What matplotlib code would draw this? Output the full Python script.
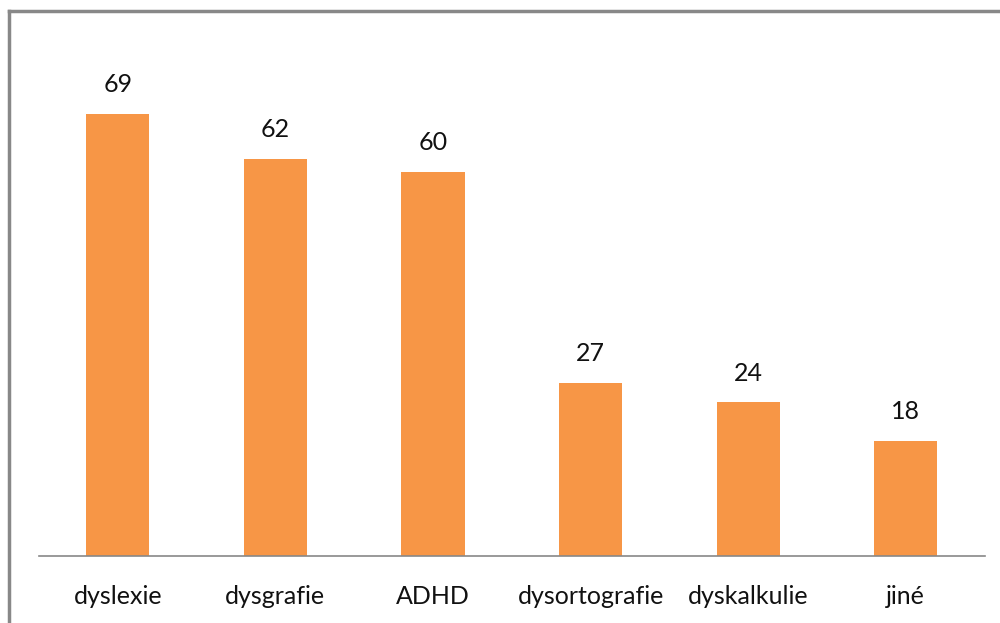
import matplotlib
matplotlib.use("Agg")
import matplotlib.pyplot as plt
from matplotlib.lines import Line2D

categories = ["dyslexie", "dysgrafie", "ADHD", "dysortografie", "dyskalkulie", "jiné"]
counts = [69, 62, 60, 27, 24, 18]

plt.rcParams['font.family'] = ['Lato', 'DejaVu Sans']

fig = plt.figure(figsize=(10, 6.23), dpi=100)
ax = fig.add_axes([0.039, 0.1075, 0.9456, 0.8225])

x = range(len(categories))
bars = ax.bar(x, counts, width=0.4, color="#F79646")
for b, v in zip(bars, counts):
    ax.annotate(str(v), (b.get_x() + b.get_width() / 2, v), xytext=(0, 21),
                textcoords="offset points", ha="center", va="center",
                fontsize=18, color="#111111")

ax.set_xlim(-0.5, len(categories) - 0.5)
ax.set_ylim(0, 80)
ax.set_yticks([])
ax.set_xticks(list(x))
ax.set_xticklabels(categories, fontsize=18, color="#111111")
ax.tick_params(axis="x", length=0, pad=21)
for s in ["top", "right", "left"]:
    ax.spines[s].set_visible(False)
ax.spines["bottom"].set_color("#888888")
ax.spines["bottom"].set_linewidth(1.2)

# outer frame (top and left edges)
fig.add_artist(Line2D([0.009, 1.0], [1 - 11/623, 1 - 11/623], color="#888888", lw=2.5))
fig.add_artist(Line2D([0.009, 0.009], [0.0, 1 - 11/623], color="#888888", lw=2.5))

fig.savefig("out.png", dpi=100)
